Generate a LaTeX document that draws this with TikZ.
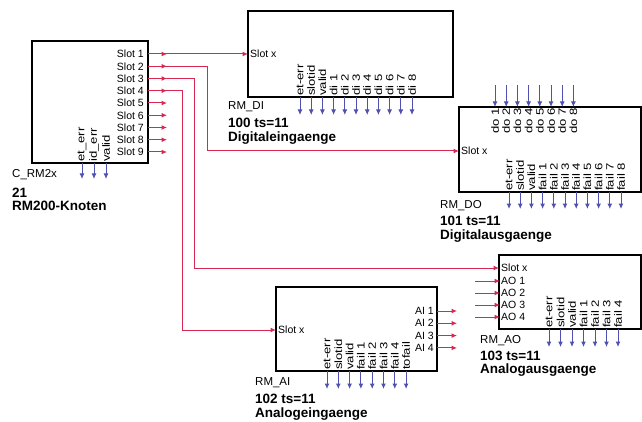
\documentclass[tikz,border=0pt]{standalone}
\usepackage{fontspec}
\setmainfont{Liberation Sans}
\usepackage{graphicx}
\usepackage{xcolor}
\usepackage{tikz}
\usetikzlibrary{positioning,arrows.meta}

\definecolor{sigred}{RGB}{214,40,80}
\definecolor{outblue}{RGB}{80,80,175}

\newcommand{\vtxt}[1]{\scalebox{1.25}[1]{#1}}

\begin{document}
\begin{tikzpicture}[
        x=1pt, y=-1pt,
        blk/.style={draw=black, line width=1.6pt, anchor=north west,
                    inner sep=0pt, outer sep=0pt},
        plab/.style={inner sep=1pt, font=\fontsize{10.5}{12}\selectfont},
        vlab/.style={rotate=90, inner sep=1pt, font=\fontsize{10.5}{11}\selectfont},
        iname/.style={anchor=base west, inner sep=0pt, font=\fontsize{11.5}{13}\selectfont},
        ititle/.style={inner sep=0pt, font=\fontsize{13.5}{15}\selectfont\bfseries},
        sig/.style={draw=sigred, line width=1pt, -{Latex[length=5.5pt,width=5pt]}},
        outp/.style={draw=outblue, line width=1pt, -{Latex[length=5.5pt,width=5pt]}}
    ]
    \useasboundingbox (0,0) rectangle (642,422);

    % ---- C_RM2x ----
    \node[blk, minimum width=116pt, minimum height=122pt] (rm2x) at (32,41) {};
    \foreach \i in {1,...,9}{
        \node[plab, anchor=east] (slot\i) at (145,41.75+12.25*\i) {Slot \i};
        \draw[sig] (rm2x.east |- slot\i) -- ++(19,0);
    }
    \foreach \lab [count=\k from 0] in {et\_err,id\_err,valid}{
        \node[vlab, anchor=west] (rmxo\k) at (82+12*\k,163) {\vtxt{\lab}};
        \draw[outp] (rmxo\k.west) -- ++(0,16);
    }
    \node[iname] (rmxname) at (12,178) {C\_RM2x};
    \node[ititle, below=19pt of rmxname.base west, anchor=base west] (rmxnum) {21};
    \node[ititle, below=13pt of rmxnum.base west, anchor=base west] (rmxdesc) {RM200-Knoten};

    % ---- RM_DI ----
    \node[blk, minimum width=205pt, minimum height=86pt] (rmdi) at (248,11) {};
    \node[plab, anchor=west] (dislot) at (249,54) {Slot x};
    \foreach \lab [count=\k from 0] in {et-err,slotid,valid,di 1,di 2,di 3,di 4,di 5,di 6,di 7,di 8}{
        \node[vlab, anchor=west] (dio\k) at (300+11.2*\k,97) {\vtxt{\lab}};
        \draw[outp] (dio\k.west) -- ++(0,18);
    }
    \node[iname] (diname) at (228,110) {RM\_DI};
    \node[ititle, below=18pt of diname.base west, anchor=base west] (dinum) {100 ts=11};
    \node[ititle, below=14pt of dinum.base west, anchor=base west] (didesc) {Digitaleingaenge};

    % ---- RM_DO ----
    \node[blk, minimum width=182pt, minimum height=85pt] (rmdo) at (459,107) {};
    \node[plab, anchor=west] (doslot) at (460,151) {Slot x};
    \foreach \k in {1,...,8}{
        \node[vlab, anchor=east] (doi\k) at (483.8+11.2*\k,107) {\vtxt{do \k}};
        \draw[outp] ([yshift=22pt]doi\k.east) -- (doi\k.east);
    }
    \foreach \lab [count=\k from 0] in {et-err,slotid,valid,fail 1,fail 2,fail 3,fail 4,fail 5,fail 6,fail 7,fail 8}{
        \node[vlab, anchor=west] (doo\k) at (509+11.2*\k,192) {\vtxt{\lab}};
        \draw[outp] (doo\k.west) -- ++(0,17);
    }
    \node[iname] (doname) at (440,208) {RM\_DO};
    \node[ititle, below=17pt of doname.base west, anchor=base west] (donum) {101 ts=11};
    \node[ititle, below=14pt of donum.base west, anchor=base west] (dodesc) {Digitalausgaenge};

    % ---- RM_AI ----
    \node[blk, minimum width=161pt, minimum height=84pt] (rmai) at (276,287) {};
    \node[plab, anchor=west] (aislot) at (277,330) {Slot x};
    \foreach \k in {1,...,4}{
        \node[plab, anchor=east] (ai\k) at (435,298.7+12.3*\k) {AI \k};
        \draw[sig] (rmai.east |- ai\k) -- ++(20,0);
    }
    \foreach \lab [count=\k from 0] in {et-err,slotid,valid,fail 1,fail 2,fail 3,fail 4,tofail}{
        \node[vlab, anchor=west] (aio\k) at (327+11.3*\k,371) {\vtxt{\lab}};
        \draw[outp] (aio\k.west) -- ++(0,18);
    }
    \node[iname] (ainame) at (255,385) {RM\_AI};
    \node[ititle, below=18pt of ainame.base west, anchor=base west] (ainum) {102 ts=11};
    \node[ititle, below=14pt of ainum.base west, anchor=base west] (aidesc) {Analogeingaenge};

    % ---- RM_AO ----
    \node[blk, minimum width=142pt, minimum height=74pt] (rmao) at (499,255) {};
    \node[plab, anchor=west] (aoslot) at (500,268) {Slot x};
    \foreach \k in {1,...,4}{
        \node[plab, anchor=west] (ao\k) at (500,269+12*\k) {AO \k};
        \draw[sig] ([xshift=-25pt]ao\k.west) -- (ao\k.west);
    }
    \foreach \lab [count=\k from 0] in {et-err,slotid,valid,fail 1,fail 2,fail 3,fail 4}{
        \node[vlab, anchor=west] (aoo\k) at (549+11.5*\k,329) {\vtxt{\lab}};
        \draw[outp] (aoo\k.west) -- ++(0,18);
    }
    \node[iname] (aoname) at (480,343) {RM\_AO};
    \node[ititle, below=17pt of aoname.base west, anchor=base west] (aonum) {103 ts=11};
    \node[ititle, below=13pt of aonum.base west, anchor=base west] (aodesc) {Analogausgaenge};

    % ---- Slot connections ----
    \draw[sig] (rm2x.east |- slot1) -- (rmdi.west |- dislot);
    \draw[sig] (rm2x.east |- slot2) -- ++(59,0) |- (rmdo.west |- doslot);
    \draw[sig] (rm2x.east |- slot3) -- ++(46,0) |- (rmao.west |- aoslot);
    \draw[sig] (rm2x.east |- slot4) -- ++(34,0) |- (rmai.west |- aislot);
\end{tikzpicture}
\end{document}
